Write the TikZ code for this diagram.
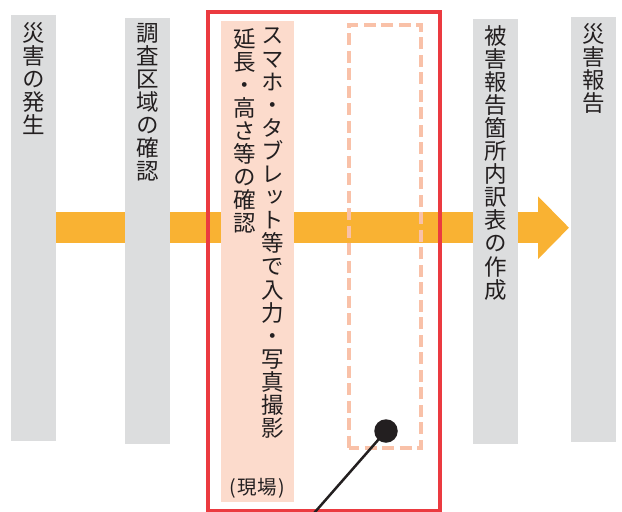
\documentclass[tikz,border=0pt]{standalone}
\usepackage{fontspec}
\usetikzlibrary{arrows.meta}
\newfontfamily\jp{Noto Sans CJK JP}
\newfontfamily\jpv[RawFeature=+vert]{Noto Sans CJK JP}
\definecolor{colgray}{HTML}{DCDDDE}
\definecolor{bandc}{HTML}{F9B233}
\definecolor{redbox}{HTML}{EB3A40}
\definecolor{peach}{HTML}{FCDBCC}
\definecolor{dashc}{HTML}{F9C1A8}
\definecolor{ink}{HTML}{231F20}
\begin{document}
\begin{tikzpicture}[x=1pt,y=-1pt,
  colbox/.style={fill=colgray, draw=none, inner sep=0pt, minimum width=45pt},
  vtext/.style={anchor=north, align=center, inner sep=0pt, text=ink,
    font=\jpv\fontsize{22.5}{23.1}\selectfont},
  flow/.style={draw=bandc, line width=31pt, line cap=butt,
    -{Triangle[width=61pt,length=31pt]}},
]
\useasboundingbox (0,0) rectangle (622,512);
% columns
\node[colbox, minimum height=426pt, anchor=north west] (c1) at (11,15) {};
\node[colbox, minimum height=426pt, anchor=north west] (c2) at (125,18) {};
\node[colbox, minimum height=425pt, anchor=north west] (c3) at (473,19) {};
\node[colbox, minimum height=425pt, anchor=north west] (c4) at (571,17) {};
% flow band (behind columns)
\draw[flow, shorten >=2pt] ([yshift=0.5pt]c1.east) -- ([yshift=0.5pt]c1.east -| c4.west);
% redraw columns above band
\fill[colgray] (c1.north west) rectangle (c1.south east);
\fill[colgray] (c2.north west) rectangle (c2.south east);
\fill[colgray] (c3.north west) rectangle (c3.south east);
\fill[colgray] (c4.north west) rectangle (c4.south east);
% field work box
\node[fill=peach, inner sep=0pt, minimum width=73pt, minimum height=481pt, anchor=north west] (field) at (221,21) {};
\node[draw=dashc, line width=4pt, dash pattern=on 12pt off 5.5pt, dash phase=2pt,
  inner sep=0pt, minimum width=72pt, minimum height=423pt, anchor=north west] (photo) at (347,22.5) {};
\node[draw=redbox, line width=3.5pt, inner sep=0pt, minimum width=232pt, minimum height=499pt,
  anchor=north west] (onsite) at (206,10) {};
% texts
\node[vtext] (t1) at (33.5,22) {災\\害\\の\\発\\生};
\node[vtext] (t2) at (147.5,23) {調\\査\\区\\域\\の\\確\\認};
\node[vtext] (t3) at (496,25) {被\\害\\報\\告\\箇\\所\\内\\訳\\表\\の\\作\\成};
\node[vtext] (t4) at (593.5,23) {災\\害\\報\\告};
\node[vtext] (t5) at (273,28) {ス\\マ\\ホ\\・\\タ\\ブ\\レ\\ッ\\ト\\等\\で\\入\\力\\・\\写\\真\\撮\\影};
\node[vtext] (t6) at (245,28) {延\\長\\・\\高\\さ\\等\\の\\確\\認};
\node[inner sep=0pt, text=ink, font=\jp\fontsize{19.5}{20}\selectfont] (t7) at (257.5,488) {(\kern2pt 現場\kern2pt)};
% pointer
\node[circle, fill=ink, minimum size=23.5pt, inner sep=0pt] (dot) at (386,431) {};
\coordinate (tail) at (308,520);
\draw[ink, line width=2.5pt] (dot.center) -- (tail);
\end{tikzpicture}
\end{document}
